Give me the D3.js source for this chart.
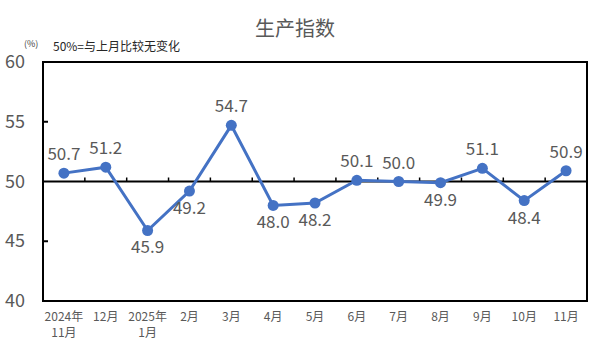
<!DOCTYPE html>
<html>
<head>
<meta charset="utf-8">
<script src="https://cdn.jsdelivr.net/npm/d3@7"></script>
<style>
  body { margin: 0; background: #fff; }
  text { font-family: "Noto Sans CJK SC", "DejaVu Sans", sans-serif; }
</style>
</head>
<body>
<svg width="591" height="354"></svg>
<script>
const months = ["2024年\n11月", "12月", "2025年\n1月", "2月", "3月", "4月", "5月", "6月", "7月", "8月", "9月", "10月", "11月"];
const values = [50.7, 51.2, 45.9, 49.2, 54.7, 48.0, 48.2, 50.1, 50.0, 49.9, 51.1, 48.4, 50.9];
// label position: 1 = above, -1 = below
const labelSide = [1, 1, -1, -1, 1, -1, -1, 1, 1, -1, 1, -1, 1];
const yTicks = [40, 45, 50, 55, 60];

const svg = d3.select("svg");
const plotL = 43, plotR = 587, plotT = 62, plotB = 301;

const x = d3.scaleBand().domain(months).range([plotL, plotR]);
const y = d3.scaleLinear().domain([40, 60]).range([plotB, plotT]);

// title
svg.append("text")
    .attr("x", 295).attr("y", 36)
    .attr("text-anchor", "middle")
    .attr("font-size", 20)
    .attr("fill", "#595959")
    .text("生产指数");

// unit notes
svg.append("text")
    .attr("x", 24).attr("y", 47)
    .attr("font-size", 9)
    .attr("fill", "#404040")
    .text("(%)");
svg.append("text")
    .attr("x", 53).attr("y", 51)
    .attr("font-size", 12)
    .attr("fill", "#262626")
    .text("50%=与上月比较无变化");

// box
svg.append("rect")
    .attr("x", plotL).attr("y", plotT)
    .attr("width", plotR - plotL).attr("height", plotB - plotT)
    .attr("fill", "none").attr("stroke", "#000").attr("stroke-width", 2);

// y axis tick labels
svg.selectAll(".ylab").data(yTicks).join("text")
    .attr("x", 25).attr("y", d => y(d) + 6)
    .attr("text-anchor", "end")
    .attr("font-size", 18)
    .attr("fill", "#595959")
    .text(d => d);

// y inward ticks
svg.selectAll(".ytick").data([45, 55]).join("line")
    .attr("x1", plotL).attr("x2", plotL + 5)
    .attr("y1", d => y(d)).attr("y2", d => y(d))
    .attr("stroke", "#000").attr("stroke-width", 2);

// 50 baseline
svg.append("line")
    .attr("x1", plotL).attr("x2", plotR)
    .attr("y1", y(50)).attr("y2", y(50))
    .attr("stroke", "#000").attr("stroke-width", 2);

// category ticks on the baseline
svg.selectAll(".xtick").data(months.slice(1)).join("line")
    .attr("x1", d => x(d)).attr("x2", d => x(d))
    .attr("y1", y(50)).attr("y2", y(50) - 4)
    .attr("stroke", "#000").attr("stroke-width", 1.5);

// x labels
const xl = svg.selectAll(".xlab").data(months).join("text")
    .attr("text-anchor", "middle")
    .attr("font-size", 12)
    .attr("fill", "#595959");
xl.each(function(d) {
    const t = d3.select(this);
    d.split("\n").forEach((part, i) => {
        t.append("tspan")
            .attr("x", x(d) + x.bandwidth() / 2)
            .attr("y", 321 + i * 16)
            .text(part);
    });
});

const cx = (d, i) => x(months[i]) + x.bandwidth() / 2;

// line
const line = d3.line()
    .x((d, i) => cx(d, i))
    .y(d => y(d));
svg.append("path")
    .attr("d", line(values))
    .attr("fill", "none")
    .attr("stroke", "#4472C4")
    .attr("stroke-width", 3);

svg.selectAll(".dot").data(values).join("circle")
    .attr("cx", cx)
    .attr("cy", d => y(d))
    .attr("r", 5.5)
    .attr("fill", "#4472C4");

// data labels
svg.selectAll(".vlab").data(values).join("text")
    .attr("x", cx)
    .attr("y", (d, i) => labelSide[i] > 0 ? y(d) - 13 : y(d) + 23)
    .attr("text-anchor", "middle")
    .attr("font-size", 17)
    .attr("fill", "#595959")
    .text(d => d.toFixed(1));
</script>
</body>
</html>
